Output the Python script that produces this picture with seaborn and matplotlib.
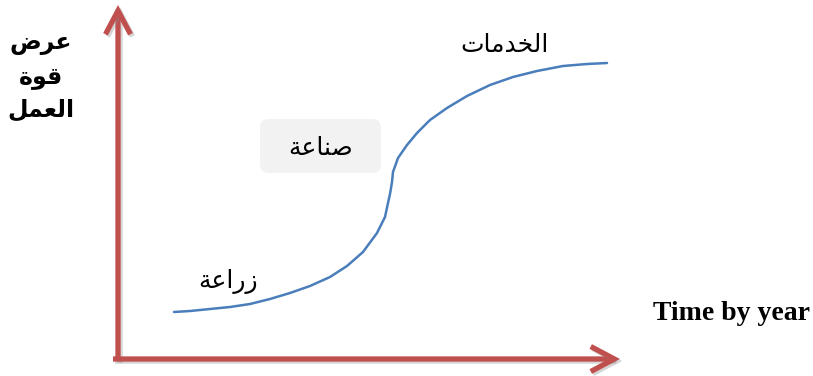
import matplotlib
matplotlib.use("Agg")
import matplotlib.pyplot as plt
import matplotlib.patheffects as pe
from matplotlib.patches import FancyBboxPatch
import seaborn as sns
import pandas as pd

# ---------------- data ----------------
time_axis = [56, 72, 92, 112, 132, 152, 172, 192, 212, 229, 245, 259, 267,
             270, 272, 274, 275, 280, 289, 299, 312, 329, 349, 372, 395,
             419, 445, 469, 489]
labour_supply = [47, 48, 50, 52, 55, 60, 66, 73, 82, 93, 107, 126, 142,
                 156, 165, 177, 187, 201, 214, 226, 239, 251, 263, 274, 282,
                 288, 293, 295, 296]

label_agri = "زراعة"
label_industry = "صناعة"
label_services = "الخدمات"
ylabel_lines = ["عرض", "قوة", "العمل"]
xlabel = "Time by year"

# ---------------- minimal Arabic shaping (presentation forms) ----------------
FORMS = {  # isolated, final, initial, medial
    "ا": (0xFE8D, 0xFE8E, None, None),
    "ت": (0xFE95, 0xFE96, 0xFE97, 0xFE98),
    "ة": (0xFE93, 0xFE94, None, None),
    "خ": (0xFEA5, 0xFEA6, 0xFEA7, 0xFEA8),
    "د": (0xFEA9, 0xFEAA, None, None),
    "ر": (0xFEAD, 0xFEAE, None, None),
    "ز": (0xFEAF, 0xFEB0, None, None),
    "ص": (0xFEB9, 0xFEBA, 0xFEBB, 0xFEBC),
    "ض": (0xFEBD, 0xFEBE, 0xFEBF, 0xFEC0),
    "ع": (0xFEC9, 0xFECA, 0xFECB, 0xFECC),
    "ق": (0xFED5, 0xFED6, 0xFED7, 0xFED8),
    "ل": (0xFEDD, 0xFEDE, 0xFEDF, 0xFEE0),
    "م": (0xFEE1, 0xFEE2, 0xFEE3, 0xFEE4),
    "ن": (0xFEE5, 0xFEE6, 0xFEE7, 0xFEE8),
    "و": (0xFEED, 0xFEEE, None, None),
}


def shape(word):
    out = []
    n = len(word)
    for i, ch in enumerate(word):
        f = FORMS.get(ch)
        if f is None:
            out.append(ch)
            continue
        prev = word[i - 1] if i > 0 else None
        nxt = word[i + 1] if i + 1 < n else None
        jp = prev in FORMS and FORMS[prev][2] is not None
        jn = f[2] is not None and nxt in FORMS
        if jp and jn:
            cp = f[3]
        elif jp:
            cp = f[1]
        elif jn:
            cp = f[2]
        else:
            cp = f[0]
        out.append(chr(cp))
    return "".join(reversed(out))


# ---------------- figure ----------------
sns.set_style("white")
plt.rcParams["font.family"] = ["DejaVu Sans"]

W, H = 813, 376
fig = plt.figure(figsize=(W / 100, H / 100), dpi=100)
ax = fig.add_axes([118 / W, 17 / H, 502 / W, 354 / H])

df = pd.DataFrame({"time": time_axis, "labour": labour_supply})
sns.lineplot(data=df, x="time", y="labour", ax=ax, color="#4A7EBB",
             linewidth=1.8, sort=False, estimator=None)
ax.lines[0].set_solid_joinstyle("round")

ax.set_xlim(0, 502)
ax.set_ylim(0, 354)
for s in ax.spines.values():
    s.set_visible(False)
ax.set_xticks([])
ax.set_yticks([])
ax.set_xlabel("")
ax.set_ylabel("")
ax.patch.set_alpha(0)

red = "#C0504D"
shadow = [pe.SimpleLineShadow(offset=(1.5, -1.5), shadow_color="#888888", alpha=0.35),
          pe.Normal()]
arrow_kw = dict(arrowstyle="->,head_length=0.85,head_width=0.45", lw=3.8,
                color=red, shrinkA=0, shrinkB=0, mutation_scale=20,
                joinstyle="miter", capstyle="butt")
a1 = ax.annotate("", xy=(0, 1.0), xytext=(0, -0.005), xycoords="axes fraction",
                 arrowprops=arrow_kw, annotation_clip=False)
a2 = ax.annotate("", xy=(1.0, 0), xytext=(-0.01, 0), xycoords="axes fraction",
                 arrowprops=arrow_kw, annotation_clip=False)
a1.arrow_patch.set_path_effects(shadow)
a2.arrow_patch.set_path_effects(shadow)

# industry box
box = FancyBboxPatch((142, 186), 121, 54,
                     boxstyle="round,pad=0,rounding_size=9",
                     facecolor="#F2F2F2", edgecolor="none", zorder=1)
ax.add_patch(box)

ax.text(203, 211, shape(label_industry), ha="center", va="center",
        fontsize=18, color="black", zorder=3)
ax.text(110, 78, shape(label_agri), ha="center", va="center",
        fontsize=18, color="black", zorder=3)
ax.text(387, 314, shape(label_services), ha="center", va="center",
        fontsize=18, color="black", zorder=3)

# y label (three lines, bold)
for txt, yc in zip(ylabel_lines, [43, 77, 110]):
    fig.text(41 / W, 1 - yc / H, shape(txt), ha="center", va="center",
             fontsize=17, fontweight="bold", color="black")

fig.text(731 / W, 1 - 314 / H, xlabel, ha="center", va="center",
         fontsize=20, fontweight="bold", family="Liberation Serif", color="black")

fig.savefig("out.png", dpi=100)
